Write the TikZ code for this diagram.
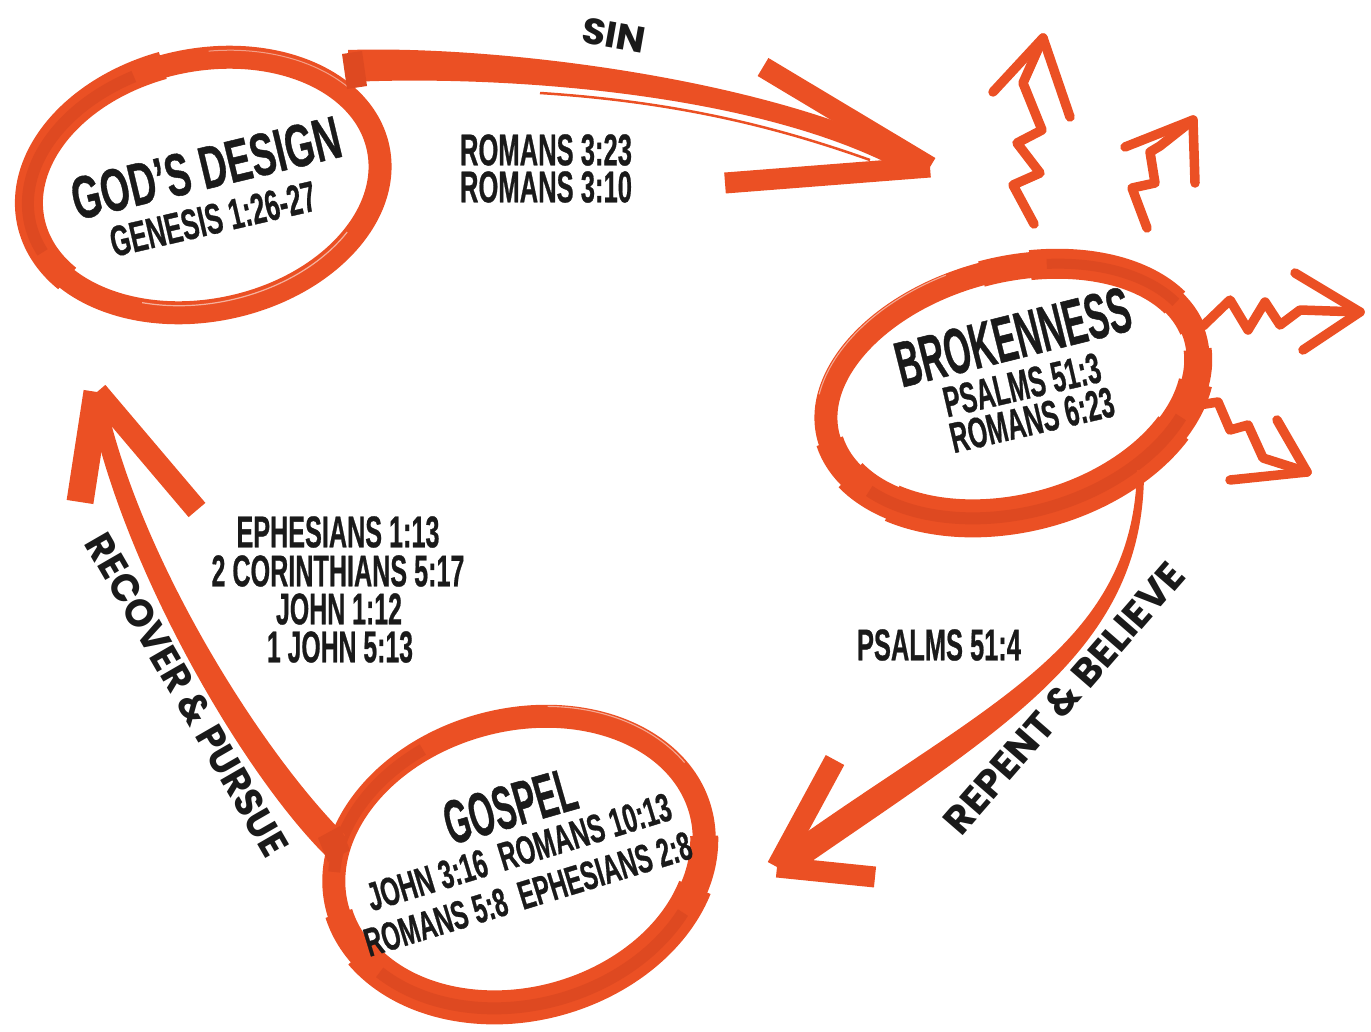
\documentclass[tikz,border=0pt]{standalone}
\usepackage{fontspec}
\usepackage{graphicx}
\setmainfont{Liberation Sans}
\newfontfamily\reffont{Liberation Sans}[FakeBold=0.8]
\newfontfamily\labfont{Poppins}
\usetikzlibrary{shapes.geometric,calc}
\definecolor{org}{HTML}{EB5024}
\definecolor{dk}{HTML}{DE4921}
\definecolor{ink}{HTML}{1A1A1A}
\newcommand{\fitbox}[3]{\resizebox{#1pt}{#2pt}{#3}}
\begin{document}
\begin{tikzpicture}[x=1pt,y=-1pt,
  ring/.style={draw=org, shape=ellipse, line width=23pt, inner sep=0pt},
  reftxt/.style={text=ink, inner sep=0pt, font=\reffont\bfseries},
  labtxt/.style={text=ink, inner sep=0pt, font=\labfont\bfseries},
  barb/.style={draw=org, line width=21pt, line cap=butt},
  zig/.style={draw=org, line width=9.5pt, line cap=round, line join=round},
]
\useasboundingbox (0,0) rectangle (1371,1031);

% ---------- zigzag bursts (behind the Brokenness ring)
\coordinate (z1s) at (1034,224); \coordinate (z1t) at (1043,38);
\coordinate (z2s) at (1147,228); \coordinate (z2t) at (1193,120);
\coordinate (z3s) at (1203,326); \coordinate (z3t) at (1360,312);
\coordinate (z4s) at (1193,406); \coordinate (z4t) at (1307,472);
\draw[zig] (z1s) -- (1013,185) -- (1040,173) -- (1017,143) -- (1042,130) -- (1023,83) -- (z1t);
\draw[zig] (993,92) -- (z1t) -- (1070,117);
\draw[zig] (z2s) -- (1132,188) -- (1155,183) -- (1150,152) -- (1160,146) -- (z2t);
\draw[zig] (1125,147) -- (z2t) -- (1195,183);
\draw[zig] (z3s) -- (1230,300) -- (1248,330) -- (1265,302) -- (1280,325) -- (1300,310) -- (z3t);
\draw[zig] (1295,273) -- (z3t) -- (1303,350);
\draw[zig] (z4s) -- (1218,402) -- (1230,430) -- (1248,425) -- (1263,458) -- (z4t);
\draw[zig] (1230,480) -- (z4t); \draw[zig] (1277,420) -- (z4t);

% ---------- rings
\node[ring, minimum width=356pt, minimum height=250pt, rotate=12] (gd) at (204,185) {};
\node[ring, minimum width=380pt, minimum height=236pt, rotate=15] (br) at (1012,388) {};
\node[ring, minimum width=376pt, minimum height=280pt, rotate=15] (gs) at (519,860) {};

\begin{scope}[shift={(204,185)}, rotate=12]
  \draw[org, line width=11] (0:183 and 121) arc [start angle=0, end angle=360, x radius=183, y radius=121];
  \draw[org, line width=28] (150:177 and 126) arc [start angle=150, end angle=265, x radius=177, y radius=126];
  \draw[dk, line width=12] (165:178 and 125) arc [start angle=165, end angle=255, x radius=178, y radius=125];
  \draw[white, opacity=.55, line width=1.2] (40:170 and 118) arc [start angle=40, end angle=120, x radius=170, y radius=118];
  \draw[white, opacity=.45, line width=1] (280:186 and 132) arc [start angle=280, end angle=330, x radius=186, y radius=132];
\end{scope}
\begin{scope}[shift={(1012,388)}, rotate=15]
  \draw[org, line width=11] (0:186 and 114) arc [start angle=0, end angle=360, x radius=186, y radius=114];
  \draw[org, line width=28] (5:190 and 122) arc [start angle=5, end angle=178, x radius=190, y radius=122];
  \draw[org, line width=34] (20:190 and 124) arc [start angle=20, end angle=160, x radius=190, y radius=124];
  \draw[org, line width=38] (40:190 and 125) arc [start angle=40, end angle=140, x radius=190, y radius=125];
  \draw[dk, line width=12] (35:190 and 125) arc [start angle=35, end angle=150, x radius=190, y radius=125];
  \draw[org, line width=26] (270:190 and 118) arc [start angle=270, end angle=355, x radius=190, y radius=118];
  \draw[org, line width=30] (285:191 and 118) arc [start angle=285, end angle=340, x radius=191, y radius=118];
  \draw[dk, line width=10] (290:192 and 118) arc [start angle=290, end angle=340, x radius=192, y radius=118];
  \draw[white, opacity=.5, line width=1.1] (200:200 and 128) arc [start angle=200, end angle=260, x radius=200, y radius=128];
\end{scope}
\begin{scope}[shift={(519,860)}, rotate=15]
  \draw[org, line width=11] (0:184 and 136) arc [start angle=0, end angle=360, x radius=184, y radius=136];
  \draw[org, line width=28] (10:188 and 142) arc [start angle=10, end angle=178, x radius=188, y radius=142];
  \draw[org, line width=34] (30:188 and 144) arc [start angle=30, end angle=160, x radius=188, y radius=144];
  \draw[dk, line width=12] (40:189 and 145) arc [start angle=40, end angle=150, x radius=189, y radius=145];
  \draw[dk, line width=12] (195:188 and 140) arc [start angle=195, end angle=250, x radius=188, y radius=140];
  \draw[white, opacity=.5, line width=1.1] (290:197 and 150) arc [start angle=290, end angle=340, x radius=197, y radius=150];
\end{scope}

% ---------- SIN arrow
\coordinate (sinS) at (350,66);
\coordinate (sinT) at (930,167);
\fill[org] (348,50) .. controls (500,45) and (780,80) .. (925,160) -- (915,178) .. controls (770,92) and (500,75) .. (350,82) -- cycle;
\fill[dk] (342,54) -- (362,51) -- (367,86) -- (347,89) -- cycle;
\draw[org, line width=2.5] (540,93) .. controls (680,102) and (780,128) .. (870,160);
\draw[barb] (763,67) -- (sinT);
\draw[barb] (725,183) -- (sinT);

% ---------- REPENT arrow
\coordinate (repS) at (1140,470);
\coordinate (repT) at (777,867);
\fill[org] (1137,470) .. controls (1133,650) and (983,704) .. (773,856) -- (789,877) .. controls (1000,730) and (1145,652) .. (1144,470) -- cycle;
\draw[barb, line width=21] (835,760) -- (repT);
\draw[barb, line width=21] (875,877) -- (repT);

% ---------- RECOVER arrow
\coordinate (recS) at (335,845);
\coordinate (recT) at (97,392);
\fill[org] (325,855) .. controls (240,770) and (121,563) .. (89,402) -- (105,398) .. controls (139,557) and (260,750) .. (345,835) -- cycle;
\fill[dk] (318,838) -- (340,826) -- (350,850) -- (328,862) -- cycle;
\draw[barb, line width=27] (80,502) -- (recT);
\draw[barb, line width=22] (197,510) -- (recT);

% ---------- texts
\node[reftxt, rotate=13.5] (t1) at (206,168) {\fitbox{275}{42}{GOD’S DESIGN}};
\node[reftxt, rotate=13] (t2) at (213,219) {\fitbox{210}{30}{GENESIS 1:26-27}};
\node[reftxt] (t3) at (546,150) {\fitbox{172}{31}{ROMANS 3:23}};
\node[reftxt] (t4) at (546,187) {\fitbox{172}{31}{ROMANS 3:10}};
\node[labtxt, rotate=-10] (t5) at (614,35) {\fitbox{64}{26}{SIN}};
\node[reftxt, rotate=14] (t6) at (1013,337) {\fitbox{240}{45}{BROKENNESS}};
\node[reftxt, rotate=13] (t7) at (1022,385) {\fitbox{160}{30}{PSALMS 51:3}};
\node[reftxt, rotate=13] (t8) at (1032,420) {\fitbox{167}{30}{ROMANS 6:23}};
\node[reftxt] (t9) at (939,645) {\fitbox{164}{31}{PSALMS 51:4}};
\node[labtxt, rotate=49] (t10) at (1064,698) {\fitbox{345}{28}{REPENT \& BELIEVE}};
\node[reftxt, rotate=16] (t11) at (510,806) {\fitbox{135}{43}{GOSPEL}};
\node[reftxt, rotate=17] (t12) at (519,852) {\fitbox{316}{28}{JOHN 3:16\ \ ROMANS 10:13}};
\node[reftxt, rotate=17] (t13) at (528,894) {\fitbox{340}{28}{ROMANS 5:8\ \ EPHESIANS 2:8}};
\node[reftxt] (t14) at (338,532) {\fitbox{203}{31}{EPHESIANS 1:13}};
\node[reftxt] (t15) at (338,571) {\fitbox{253}{31}{2 CORINTHIANS 5:17}};
\node[reftxt] (t16) at (339,609) {\fitbox{126}{31}{JOHN 1:12}};
\node[reftxt] (t17) at (340,647) {\fitbox{146}{31}{1 JOHN 5:13}};
\node[labtxt, rotate=-60] (t18) at (187,695) {\fitbox{365}{28}{RECOVER \& PURSUE}};
\end{tikzpicture}
\end{document}
